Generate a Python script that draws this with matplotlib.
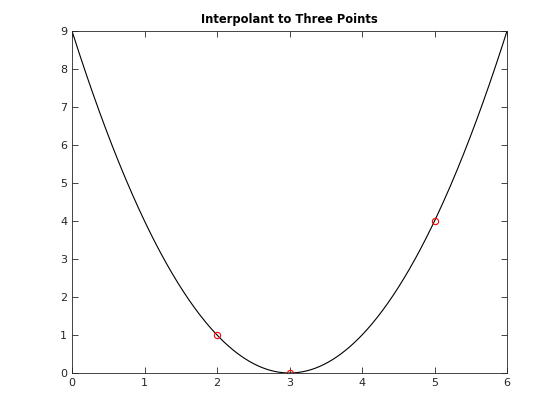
import matplotlib
matplotlib.use('Agg')
import matplotlib.pyplot as plt
import numpy as np

# data points to interpolate
x_pts = [2, 3, 5]
y_pts = [1, 0, 4]

x_ticks = [0, 1, 2, 3, 4, 5, 6]
y_ticks = [0, 1, 2, 3, 4, 5, 6, 7, 8, 9]

# quadratic interpolant through the three points
coef = np.polyfit(x_pts, y_pts, 2)
xx = np.linspace(0, 6, 400)
yy = np.polyval(coef, xx)

plt.rcParams['font.family'] = ['DejaVu Sans']

fig = plt.figure(figsize=(5.6, 4.2), dpi=100)
ax = fig.add_axes([0.1286, 0.1119, 0.7768, 0.8143])

ax.plot(xx, yy, color='black', linewidth=0.8)
ax.plot(x_pts, y_pts, 'o', markerfacecolor='none', markeredgecolor='red',
        markersize=4.5, markeredgewidth=0.8)

ax.set_xlim(0, 6)
ax.set_ylim(0, 9)
ax.set_xticks(x_ticks)
ax.set_yticks(y_ticks)
ax.tick_params(direction='in', top=True, right=True, length=4, width=0.6,
               labelsize=8, colors='#262626', labelcolor='#262626')
for s in ax.spines.values():
    s.set_linewidth(0.6)
    s.set_color('#262626')

ax.set_title('Interpolant to Three Points', fontsize=8.3, fontweight='bold')

fig.savefig('out.png', dpi=100, facecolor='white')
